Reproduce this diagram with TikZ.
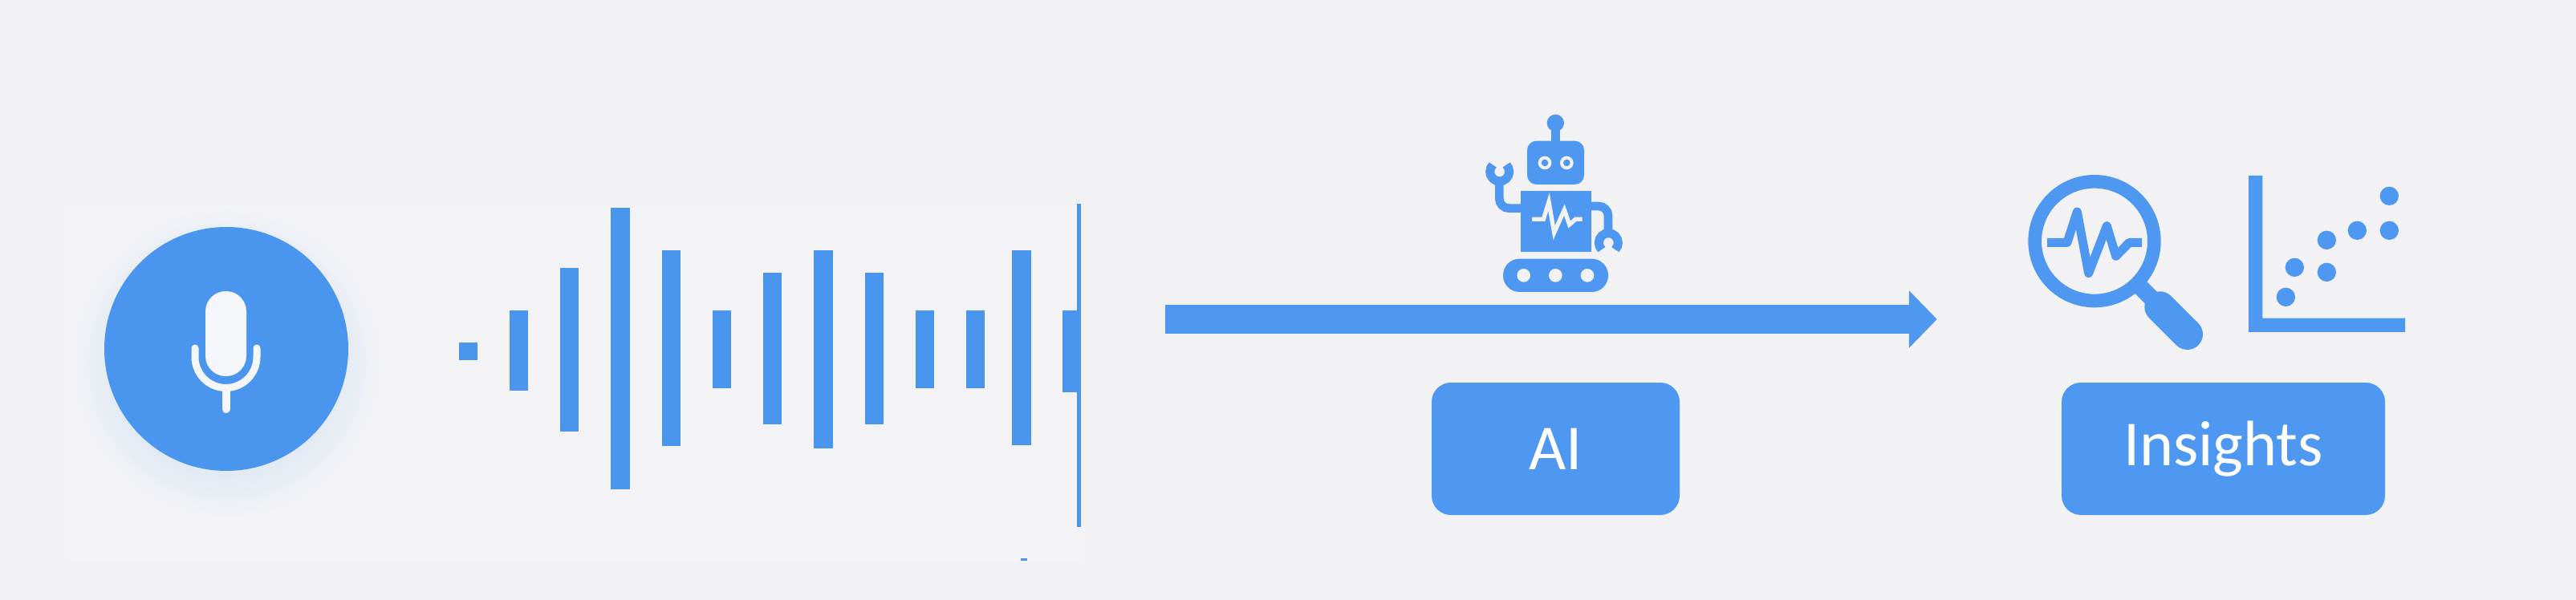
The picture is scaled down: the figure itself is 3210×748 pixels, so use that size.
\documentclass[tikz,border=0pt]{standalone}
\usepackage{fontspec}
\setmainfont{Carlito}
\usetikzlibrary{arrows.meta}
\definecolor{pagebg}{HTML}{F2F2F4}
\definecolor{softbg}{HTML}{F3F3F5}
\definecolor{iconblue}{HTML}{4F98F2}
\definecolor{waveblue}{HTML}{4A96EE}
\definecolor{micwhite}{HTML}{F4F6F9}
\definecolor{glow}{HTML}{E2EAF4}
\pgfdeclareradialshading{micglow}{\pgfpoint{0bp}{0bp}}{%
  color(0bp)=(glow); color(18bp)=(glow); color(25bp)=(softbg); color(50bp)=(softbg)}
% px: one pixel of the reference. fine: one third of a pixel (the zoomed icon grid)
\newcommand\ringarc[7]{% style, cx, cy, radius, start, end, unit
  \draw[#1] ([shift={(#5:#4*#7)}]#2,#3) arc[start angle=#5,end angle=#6,radius=#4*#7];}
\tikzset{
  pxw/.style={line width=#1*0.25pt},
  finew/.style={line width=#1*0.08333pt},
  waveBar/.style={fill=waveblue},
  iconline/.style={draw=iconblue},
  cutline/.style={draw=pagebg,line join=round},
  labelbox/.style={fill=iconblue,rounded corners=6pt,minimum height=165*0.25pt,
    font=\fontsize{20}{24}\selectfont,text=white,inner sep=0pt},
  fineGrid/.style={x=0.08333pt,y=-0.08333pt},
  flow/.style={draw=iconblue,pxw=35.3,
    -{Triangle[length=8.7pt,width=17.35pt,fill=iconblue]}},
}
\begin{document}
\begin{tikzpicture}[x=0.25pt,y=-0.25pt]
\useasboundingbox (0,0) rectangle (3210,748);
\fill[pagebg] (0,0) rectangle (3210,748);
\fill[softbg] (85,256) rectangle (1350,700);

% microphone glow and disc
\shade[shading=micglow] (282,452) circle[radius=195];
\fill[waveblue] (282,435) circle[radius=152];
\fill[micwhite,rounded corners=6.3pt] (256,363) rectangle (307,469);
\draw[micwhite,pxw=9,line cap=round] (243,434) -- (243,445)
  arc[start angle=180,end angle=360,radius=38.5*0.25pt] -- (320,434);
\draw[micwhite,pxw=10,line cap=round] (281.5,484) -- (281.5,510);

% sound wave
\foreach \l/\r/\t/\b in {
  572/595/427/449, 635/658/387/487, 698/721/334/538, 761/785/259/610,
  825/848/312/556, 888/911/387/484, 951/974/340/529, 1014/1038/312/559,
  1078/1101/340/529, 1141/1164/387/484, 1204/1227/387/484, 1261/1285/312/555,
  1324/1344/387/489, 1342/1347/254/657, 1272/1280/696/699}
  \fill[waveBar] (\l,\t) rectangle (\r,\b);

% main arrow
\coordinate (flowstart) at (1452,398);
\coordinate (flowtip) at (2413.7,398);
\draw[flow] (flowstart) -- (flowtip);

% robot
\begin{scope}[shift={(1780,120)},fineGrid]
  \fill[iconblue] (475,100) circle[radius=32];
  \fill[iconblue] (460,100) rectangle (492,180);
  \fill[iconblue,rounded corners=2.9pt] (369,167) rectangle (582,330);
  \foreach \ex in {435,517} {
    \fill[pagebg] (\ex,249) circle[radius=25];
    \fill[iconblue] (\ex,249) circle[radius=13];
  }
  \fill[iconblue] (346,354) rectangle (608,582);
  \draw[cutline,finew=16,miter limit=10,line join=miter]
    (387,460) -- (430,460) -- (450,395) -- (470,510) -- (508,425) -- (527,480) -- (550,460) -- (575,460);
  % left arm and gripper
  \draw[iconline,finew=32,rounded corners=3pt] (350,419) -- (265,419) -- (265,320);
  \ringarc{iconline,finew=33}{266}{282}{36}{135}{405}{0.08333pt}
  % right arm and gripper
  \draw[iconline,finew=32,rounded corners=3pt] (604,411) -- (672,411) -- (672,505);
  \ringarc{iconline,finew=33}{673}{548}{36}{-45}{225}{0.08333pt}
  % tread
  \fill[iconblue,rounded corners=5.1pt] (279,608) rectangle (672,732);
  \foreach \hx in {356,475,594}
    \fill[pagebg] (\hx,670) circle[radius=25];
\end{scope}

% magnifier
\begin{scope}[shift={(2440,190)},fineGrid]
  \draw[iconline,finew=50] (510,332) circle[radius=223];
  \draw[iconline,finew=63] (675,497) -- (760,582);
  \draw[iconline,finew=116,line cap=round] (755,578) -- (857,680);
  \draw[iconline,finew=33,line join=round]
    (333,337) -- (408,337) -- (445,222) -- (488,452) -- (556,275) -- (590,388) -- (640,337) -- (687,337);
\end{scope}

% scatter chart
\begin{scope}[shift={(2780,200)},fineGrid]
  \fill[iconblue] (66,57) -- (118,57) -- (118,590) -- (651,590) -- (651,642) -- (66,642) -- cycle;
  \foreach \dx/\dy in {205/511,238/400,358/298,358/418,472/262,592/262,592/133}
    \fill[iconblue] (\dx,\dy) circle[radius=35];
\end{scope}

% labels
\node[labelbox,minimum width=309*0.25pt] (ai) at (1938.5,559.5) {AI};
\node[labelbox,minimum width=403*0.25pt] (insights) at (2770.5,559.5) {Insights};
\end{tikzpicture}
\end{document}
